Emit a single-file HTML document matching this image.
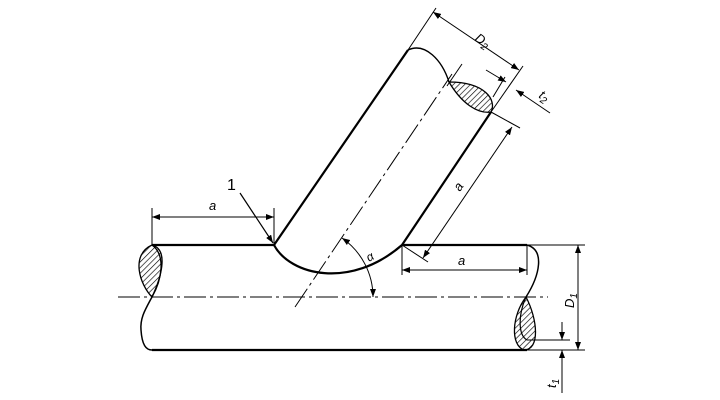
<!DOCTYPE html>
<html><head><meta charset="utf-8"><style>
html,body{margin:0;padding:0;background:#fff;}
svg{display:block;}
text{font-family:"Liberation Sans",sans-serif;font-style:italic;fill:#000;}
</style></head><body>
<svg width="720" height="400" viewBox="0 0 720 400" xmlns="http://www.w3.org/2000/svg">
<defs>
<pattern id="h" width="4" height="4" patternUnits="userSpaceOnUse" patternTransform="rotate(45)">
<line x1="0" y1="0" x2="0" y2="4" stroke="#000" stroke-width="1.3"/>
</pattern>
<marker id="ar" markerWidth="8" markerHeight="6" refX="8" refY="3" orient="auto" markerUnits="userSpaceOnUse">
<path d="M0,0 L8,3 L0,6 z" fill="#000"/>
</marker>
<marker id="al" markerWidth="8" markerHeight="6" refX="0" refY="3" orient="auto" markerUnits="userSpaceOnUse">
<path d="M8,0 L0,3 L8,6 z" fill="#000"/>
</marker>
</defs>
<g fill="none" stroke="#000">
<!-- main pipe -->
<line x1="152" y1="245" x2="274" y2="245" stroke-width="2.2"/>
<line x1="402" y1="245" x2="527" y2="245" stroke-width="2.2"/>
<line x1="527" y1="245" x2="585" y2="245" stroke-width="1"/>
<line x1="152" y1="350" x2="527" y2="350" stroke-width="2.2"/>
<line x1="527" y1="350" x2="585" y2="350" stroke-width="1"/>
<!-- centerline -->
<line x1="118" y1="297" x2="548" y2="297" stroke-width="1" stroke-dasharray="22,4,3,4"/>
<!-- left end -->
<path d="M152,245 C130,255 140,285 152,297 C160,280 170,250 152,245 Z" fill="url(#h)" stroke-width="1.3"/>
<path d="M152,245 C166,255 162,280 152,297" stroke-width="1.3"/>
<path d="M152,297 C145,310 140,318 141,330 C142,345 146,350 152,350" stroke-width="1.5"/>
<!-- right end -->
<path d="M527,245 C545,250 540,275 526,297" stroke-width="1.5"/>
<path d="M526,297 C512,315 510,345 524,350 C540,350 538,320 526,297 Z" fill="url(#h)" stroke-width="1.3"/>
<path d="M526,297 C518,315 518,335 527,340" stroke-width="1.2"/>
<!-- branch -->
<line x1="274" y1="245" x2="408" y2="50" stroke-width="2.2"/>
<line x1="402" y1="245" x2="491" y2="112" stroke-width="2.2"/>
<path d="M274,245 C290,275 350,290 402,245" stroke-width="2.2"/>
<path d="M408,50 C425,42 442,60 449,82" stroke-width="1.4"/>
<path d="M449,82 C462,104 478,114 491,112 C497,100 485,82 449,82 Z" fill="url(#h)" stroke-width="1.3"/>
<line x1="447" y1="86" x2="462" y2="64" stroke-width="1"/>
<line x1="295" y1="307" x2="452" y2="74" stroke-width="1" stroke-dasharray="22,4,3,4"/>
<!-- dims top-left a -->
<line x1="152" y1="208" x2="152" y2="245" stroke-width="1"/>
<line x1="274" y1="208" x2="274" y2="245" stroke-width="1"/>
<line x1="152" y1="217" x2="274" y2="217" stroke-width="1" marker-start="url(#al)" marker-end="url(#ar)"/>
<line x1="240" y1="193" x2="273" y2="243" stroke-width="1.2" marker-end="url(#ar)"/>
<!-- bottom-right a -->
<line x1="402" y1="245" x2="402" y2="275" stroke-width="1"/>
<line x1="527" y1="245" x2="527" y2="275" stroke-width="1"/>
<line x1="402" y1="270" x2="527" y2="270" stroke-width="1" marker-start="url(#al)" marker-end="url(#ar)"/>
<line x1="402" y1="245" x2="428" y2="262" stroke-width="1"/>
<line x1="491" y1="112" x2="520" y2="128" stroke-width="1"/>
<line x1="423" y1="258" x2="512" y2="127" stroke-width="1" marker-start="url(#al)" marker-end="url(#ar)"/>
<!-- D2 -->
<line x1="408" y1="50" x2="436" y2="8" stroke-width="1"/>
<line x1="491" y1="112" x2="523" y2="66" stroke-width="1"/>
<line x1="433" y1="12" x2="519" y2="70" stroke-width="1" marker-start="url(#al)" marker-end="url(#ar)"/>
<!-- t2 -->
<line x1="505" y1="77" x2="493" y2="97" stroke-width="1"/>
<line x1="486" y1="70" x2="506" y2="82" stroke-width="1" marker-end="url(#ar)"/>
<line x1="516" y1="90" x2="550" y2="113" stroke-width="1" marker-start="url(#al)"/>
<!-- alpha -->
<path d="M342,238 A72,72 0 0 1 373,297" stroke-width="1" marker-start="url(#al)" marker-end="url(#ar)"/>
<!-- D1 -->
<line x1="578" y1="245" x2="578" y2="350" stroke-width="1" marker-start="url(#al)" marker-end="url(#ar)"/>
<!-- t1 -->
<line x1="527" y1="340" x2="570" y2="340" stroke-width="1"/>
<line x1="562" y1="322" x2="562" y2="340" stroke-width="1" marker-end="url(#ar)"/>
<line x1="562" y1="393" x2="562" y2="350" stroke-width="1" marker-end="url(#ar)"/>
</g>
<text x="209" y="210" font-size="13">a</text>
<text x="227" y="190" font-size="16" style="font-style:normal">1</text>
<text x="458" y="265" font-size="13">a</text>
<text x="0" y="0" font-size="13" transform="translate(460,192) rotate(-57)">a</text>
<text x="0" y="0" font-size="13" transform="translate(474,40) rotate(34)">D<tspan font-size="10" dy="3">2</tspan></text>
<text x="0" y="0" font-size="13" transform="translate(538,97) rotate(34)">t<tspan font-size="10" dy="3">2</tspan></text>
<text x="0" y="0" font-size="12" transform="translate(369,262) rotate(-30)">α</text>
<text x="0" y="0" font-size="13" transform="translate(574,308) rotate(-90)">D<tspan font-size="10" dy="3">1</tspan></text>
<text x="0" y="0" font-size="13" transform="translate(556,388) rotate(-90)">t<tspan font-size="10" dy="3">1</tspan></text>
</svg>
</body></html>
